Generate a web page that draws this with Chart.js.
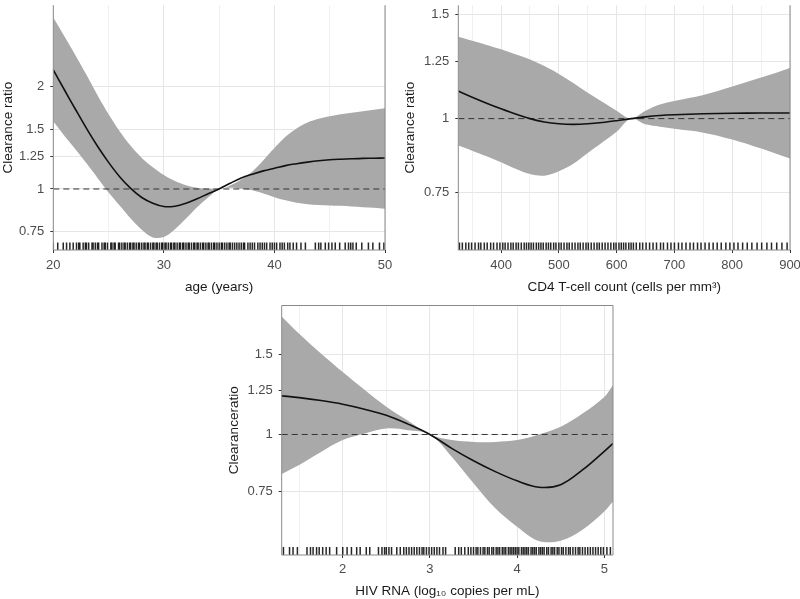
<!DOCTYPE html>
<html><head><meta charset="utf-8">
<script src="https://cdn.jsdelivr.net/npm/chart.js@4/dist/chart.umd.min.js"></script>
<style>
html,body{margin:0;padding:0;background:#fff;overflow:hidden;width:800px;height:599px}
canvas{position:absolute}
</style></head><body>
<canvas id="c1" width="400" height="300" style="left:0;top:0;width:400px;height:300px"></canvas>
<canvas id="c2" width="400" height="300" style="left:400px;top:0;width:400px;height:300px"></canvas>
<canvas id="c3" width="420" height="299" style="left:200px;top:300px;width:420px;height:299px"></canvas>
<script>
// ---------- Panel 1: age ----------
const ageX = [20,21,22,23,24,25,26,27,28,29,30,31,32,33,34,35,36,37,38,39,40,41,42,43,44,45,46,47,48,49,50];
const ageFit = [2.243,1.961,1.718,1.509,1.337,1.198,1.087,1.004,0.944,0.908,0.888,0.890,0.908,0.936,0.968,1.0,1.040,1.078,1.106,1.131,1.151,1.172,1.187,1.200,1.211,1.219,1.224,1.228,1.231,1.232,1.234];
const ageUpper = [3.20,2.82,2.48,2.17,1.89,1.66,1.48,1.34,1.235,1.16,1.10,1.056,1.026,1.009,1.002,1.0,1.024,1.066,1.126,1.216,1.320,1.425,1.508,1.570,1.610,1.638,1.660,1.677,1.696,1.712,1.729];
const ageLower = [1.58,1.435,1.31,1.19,1.078,0.976,0.894,0.818,0.758,0.720,0.722,0.761,0.818,0.884,0.944,1.0,1.009,1.002,0.991,0.970,0.946,0.926,0.911,0.902,0.897,0.894,0.892,0.888,0.884,0.880,0.874];
const ageRug = [20.0,20.4,20.9,21.2,21.5,21.8,22.1,22.3,22.4,22.7,22.9,23.0,23.2,23.5,23.6,23.8,24.0,24.1,24.4,24.6,24.7,24.9,25.2,25.3,25.5,25.6,25.9,26.0,26.2,26.4,26.5,26.7,26.9,27.0,27.2,27.3,27.5,27.7,27.8,28.0,28.2,28.3,28.5,28.6,28.8,29.0,29.1,29.3,29.4,29.6,29.8,29.9,30.1,30.2,30.4,30.6,30.7,30.9,31.0,31.2,31.4,31.5,31.7,31.8,32.0,32.2,32.3,32.5,32.7,32.8,33.0,33.1,33.3,33.5,33.6,33.8,34.0,34.1,34.3,34.5,34.6,34.8,35.0,35.2,35.3,35.5,35.7,35.9,36.0,36.2,36.4,36.6,36.8,37.0,37.2,37.3,37.6,37.8,38.0,38.2,38.5,38.7,38.9,39.1,39.3,39.6,39.8,40.0,40.2,40.5,40.7,40.9,41.2,41.4,41.7,42.0,42.4,42.8,43.7,44.0,44.2,44.6,44.9,45.2,45.5,45.9,46.4,46.7,46.9,47.1,47.4,47.9,48.5,48.9,49.5,49.9];
const ageXTicks = [20,25,30,35,40,45,50];
const ageXLabels = [20,30,40,50];
const ageYTicks = [0.75,1,1.25,1.5,2];

// ---------- Panel 2: CD4 ----------
const cd4X = [326,350,375,400,425,450,475,500,525,550,575,600,625,650,675,700,750,800,850,900];
const cd4Fit = [1.113,1.087,1.062,1.039,1.018,1.000,0.987,0.980,0.978,0.980,0.985,0.992,1.0,1.007,1.012,1.015,1.019,1.021,1.022,1.022];
const cd4Upper = [1.375,1.354,1.332,1.309,1.284,1.259,1.227,1.190,1.149,1.106,1.068,1.031,1.0,1.031,1.056,1.071,1.096,1.133,1.173,1.218];
const cd4Lower = [0.901,0.883,0.864,0.844,0.823,0.806,0.801,0.815,0.839,0.875,0.911,0.950,1.0,0.978,0.969,0.961,0.947,0.922,0.890,0.856];
const cd4Rug = [328,333,339,344,349,355,361,365,371,376,382,387,393,398,403,407,412,417,421,426,430,435,440,444,448,452,456,461,465,469,473,478,482,486,491,495,500,504,509,514,518,523,528,533,537,542,547,551,556,561,566,570,575,580,585,590,595,599,604,608,612,616,621,625,629,634,640,645,651,657,663,669,676,681,688,694,700,707,713,720,727,733,740,746,753,760,767,774,781,789,796,803,810,818,826,834,843,851,860,868,877,886,895];
const cd4XTicks = [350,400,450,500,550,600,650,700,750,800,850,900];
const cd4XLabels = [400,500,600,700,800,900];
const cd4YTicks = [0.75,1,1.25,1.5];

// ---------- Panel 3: HIV RNA ----------
const rnaX = [1.3,1.5,1.75,2.0,2.25,2.5,2.75,3.0,3.25,3.5,3.75,4.0,4.25,4.5,4.75,5.0,5.1];
const rnaFit = [1.217,1.206,1.188,1.166,1.137,1.103,1.054,1.0,0.932,0.875,0.828,0.790,0.765,0.775,0.835,0.918,0.956];
const rnaUpper = [1.822,1.668,1.51,1.374,1.255,1.151,1.072,1.0,0.972,0.963,0.963,0.972,1.0,1.04,1.112,1.21,1.284];
const rnaLower = [0.818,0.856,0.915,0.972,1.005,1.031,1.022,1.0,0.893,0.780,0.687,0.626,0.582,0.583,0.616,0.676,0.711];
const rnaRug = [1.32,1.39,1.43,1.48,1.59,1.63,1.66,1.70,1.73,1.77,1.81,1.85,1.93,2.00,2.05,2.10,2.16,2.20,2.27,2.31,2.41,2.45,2.48,2.50,2.53,2.56,2.62,2.66,2.70,2.73,2.76,2.79,2.82,2.85,2.88,2.91,2.93,2.96,2.99,3.02,3.05,3.08,3.11,3.15,3.18,3.29,3.33,3.36,3.40,3.44,3.47,3.50,3.53,3.55,3.58,3.61,3.63,3.66,3.68,3.71,3.73,3.76,3.78,3.80,3.83,3.85,3.87,3.90,3.92,3.94,3.96,3.98,4.00,4.02,4.05,4.07,4.09,4.11,4.13,4.16,4.18,4.20,4.22,4.25,4.27,4.29,4.31,4.34,4.36,4.39,4.41,4.43,4.46,4.48,4.51,4.53,4.56,4.59,4.61,4.64,4.67,4.70,4.72,4.75,4.78,4.81,4.84,4.87,4.90,4.93,4.96,4.99,5.03,5.07];
const rnaXTicks = [1.5,2,2.5,3,3.5,4,4.5,5];
const rnaXLabels = [2,3,4,5];
const rnaYTicks = [0.75,1,1.25,1.5];

const FONT = "'Liberation Sans', Arial, Helvetica, sans-serif";
const BAND = '#a9a9a9';
const RUG = 'rgba(0,0,0,0.85)';

const framePlugin = {
  id: 'frame',
  afterDatasetsDraw(chart, args, opts) {
    const {ctx, chartArea: a} = chart;
    ctx.save();
    ctx.strokeStyle = opts.color || '#8a8a8a';
    ctx.lineWidth = 1;
    ctx.beginPath();
    if (opts.top) {
      ctx.rect(a.left, a.top, a.right - a.left, a.bottom - a.top);
    } else {
      ctx.moveTo(a.left, a.top);
      ctx.lineTo(a.left, a.bottom);
      ctx.lineTo(a.right, a.bottom);
      ctx.lineTo(a.right, a.top);
    }
    ctx.stroke();
    ctx.restore();
  }
};

function pts(xs, ys) { return xs.map((x, i) => ({x: x, y: ys[i]})); }

function makePanel(id, c) {
  const rugLen = c.rugLen;
  const rugY = (rugLen / 2) / c.plotH;
  new Chart(document.getElementById(id), {
    type: 'scatter',
    data: {
      datasets: [
        { data: pts(c.x, c.fit), showLine: true, borderColor: '#111', borderWidth: 1.6,
          pointRadius: 0, tension: 0.35, fill: false },
        { data: [{x: c.xmin, y: 1}, {x: c.xmax, y: 1}], showLine: true, borderColor: '#333',
          borderWidth: 1, borderDash: [6, 4], pointRadius: 0, fill: false },
        { data: c.rug.map(v => ({x: v, y: rugY})), yAxisID: 'yr', showLine: false,
          pointStyle: 'line', rotation: 90, pointRadius: rugLen / 2, pointBorderWidth: 1.5,
          pointBorderColor: RUG, borderColor: RUG, pointHoverRadius: rugLen / 2 },
        { data: pts(c.x, c.upper), showLine: true, borderWidth: 0, borderColor: 'rgba(0,0,0,0)',
          backgroundColor: BAND, pointRadius: 0, tension: 0.35, fill: '+1' },
        { data: pts(c.x, c.lower), showLine: true, borderWidth: 0, borderColor: 'rgba(0,0,0,0)',
          pointRadius: 0, tension: 0.35, fill: false }
      ]
    },
    plugins: [framePlugin],
    options: {
      responsive: false, animation: false, events: [],
      layout: { padding: { left: c.padLeft, right: c.padRight, top: c.padTop, bottom: 0 } },
      plugins: { legend: { display: false }, tooltip: { enabled: false }, frame: { top: c.frameTop } },
      scales: {
        x: {
          type: 'linear', min: c.xmin, max: c.xmax,
          afterBuildTicks: s => { s.ticks = c.xTicks.map(v => ({value: v})); },
          afterFit: s => { s.height = c.xH; s.paddingLeft = 0; s.paddingRight = 0; },
          ticks: { autoSkip: false, maxRotation: 0, padding: c.xTickPad, color: '#4d4d4d',
            font: { family: FONT, size: 13 },
            callback: v => c.xLabels.includes(v) ? String(v) : '' },
          grid: { color: ctx => (ctx.tick && c.xLabels.includes(ctx.tick.value)) ? '#e6e6e6' : '#f0f0f0',
            lineWidth: 1, drawTicks: true, tickLength: 3,
            tickColor: ctx => (ctx.tick && c.xLabels.includes(ctx.tick.value)) ? '#333' : 'rgba(0,0,0,0)' },
          border: { display: false },
          title: { display: true, text: c.xTitle, color: '#1a1a1a', font: { family: FONT, size: 13.5 },
            padding: { top: 0, bottom: c.xTitlePad } }
        },
        y: {
          type: 'logarithmic', min: c.ymin, max: c.ymax,
          afterBuildTicks: s => { s.ticks = c.yTicks.map(v => ({value: v})); },
          afterFit: s => { s.width = c.yW; s.paddingTop = 0; s.paddingBottom = 0; },
          ticks: { autoSkip: false, padding: 6, color: '#4d4d4d', font: { family: FONT, size: 13 },
            callback: v => String(v) },
          grid: { color: '#e6e6e6', lineWidth: 1, drawTicks: true, tickLength: 3, tickColor: '#333' },
          border: { display: false },
          title: { display: true, text: c.yTitle, color: '#1a1a1a', font: { family: FONT, size: 13.5 },
            padding: { top: c.yTitlePad, bottom: 0 } }
        },
        yr: { type: 'linear', min: 0, max: 1, display: false }
      }
    }
  });
}

makePanel('c1', {
  x: ageX, fit: ageFit, upper: ageUpper, lower: ageLower, rug: ageRug,
  xTicks: ageXTicks, xLabels: ageXLabels, yTicks: ageYTicks,
  xmin: 20, xmax: 50, ymin: 0.661, ymax: 3.48,
  xTitle: 'age (years)', yTitle: 'Clearance ratio',
  padLeft: 0, padRight: 15, padTop: 0, yW: 53.3, xH: 50, plotH: 250,
  xTickPad: 5, xTitlePad: 4.6, yTitlePad: 0.4, rugLen: 7.5, frameTop: false
});
makePanel('c2', {
  x: cd4X, fit: cd4Fit, upper: cd4Upper, lower: cd4Lower, rug: cd4Rug,
  xTicks: cd4XTicks, xLabels: cd4XLabels, yTicks: cd4YTicks,
  xmin: 326, xmax: 900, ymin: 0.645, ymax: 1.554,
  xTitle: 'CD4 T-cell count (cells per mm³)', yTitle: 'Clearance ratio',
  padLeft: 0, padRight: 10, padTop: 0, yW: 58.3, xH: 50, plotH: 250,
  xTickPad: 5, xTitlePad: 4.6, yTitlePad: 1.9, rugLen: 7.5, frameTop: false
});
makePanel('c3', {
  x: rnaX, fit: rnaFit, upper: rnaUpper, lower: rnaLower, rug: rnaRug,
  xTicks: rnaXTicks, xLabels: rnaXLabels, yTicks: rnaYTicks,
  xmin: 1.3, xmax: 5.1, ymin: 0.542, ymax: 1.926,
  xTitle: 'HIV RNA (log₁₀ copies per mL)', yTitle: 'Clearanceratio',
  padLeft: 25, padRight: 7, padTop: 5, yW: 56.7, xH: 44, plotH: 250,
  xTickPad: 4, xTitlePad: 0, yTitlePad: 1, rugLen: 8, frameTop: true
});
</script>
</body></html>
